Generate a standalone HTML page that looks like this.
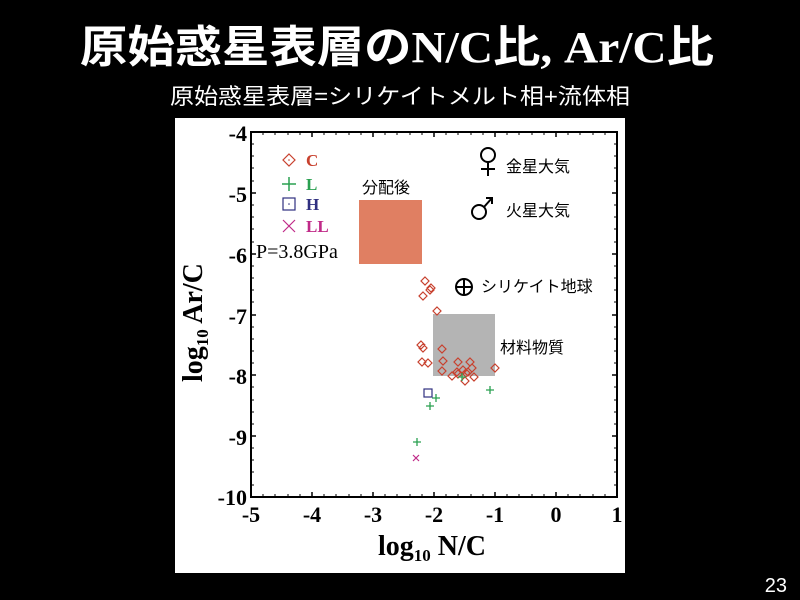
<!DOCTYPE html>
<html><head><meta charset="utf-8"><style>
html,body{margin:0;padding:0;background:#000;width:800px;height:600px;overflow:hidden}
</style></head><body>
<svg width="800" height="600" viewBox="0 0 800 600" xmlns="http://www.w3.org/2000/svg">
<rect width="800" height="600" fill="#000"/>
<text x="80" y="62" fill="#fff" font-size="44" font-weight="bold" font-family="'Liberation Serif','Noto Sans CJK JP',serif" textLength="634" lengthAdjust="spacingAndGlyphs">原始惑星表層のN/C比, Ar/C比</text>
<text x="170" y="104" fill="#fff" font-size="22" font-family="'Liberation Sans','Noto Sans CJK JP',sans-serif" textLength="460" lengthAdjust="spacingAndGlyphs">原始惑星表層=シリケイトメルト相+流体相</text>
<text x="787" y="592" fill="#fff" font-size="20" text-anchor="end" font-family="'Liberation Sans',sans-serif">23</text>
<rect x="175" y="118" width="450" height="455" fill="#fff"/>
<g font-family="'Liberation Serif',serif">
<rect x="359" y="200" width="63" height="64" fill="#e07f62"/>
<rect x="433" y="314" width="62" height="62" fill="#b4b4b4"/>
<rect x="251" y="132" width="366" height="365" fill="none" stroke="#000" stroke-width="2"/>
<g stroke="#000" stroke-width="1.5">
<path d="M312,497v-5M373,497v-5M434,497v-5M495,497v-5M556,497v-5M312,132v5M373,132v5M434,132v5M495,132v5M556,132v5
M251,193h5M251,254h5M251,315h5M251,375h5M251,436h5M617,193h-5M617,254h-5M617,315h-5M617,375h-5M617,436h-5"/>
<path stroke-width="1" d="M263,497v-3M275,497v-3M288,497v-3M300,497v-3M324,497v-3M336,497v-3M349,497v-3M361,497v-3M385,497v-3M397,497v-3M410,497v-3M422,497v-3M446,497v-3M458,497v-3M471,497v-3M483,497v-3M507,497v-3M519,497v-3M532,497v-3M544,497v-3M568,497v-3M580,497v-3M593,497v-3M605,497v-3
M263,132v3M275,132v3M288,132v3M300,132v3M324,132v3M336,132v3M349,132v3M361,132v3M385,132v3M397,132v3M410,132v3M422,132v3M446,132v3M458,132v3M471,132v3M483,132v3M507,132v3M519,132v3M532,132v3M544,132v3M568,132v3M580,132v3M593,132v3M605,132v3
M251,144h3M251,156h3M251,168h3M251,181h3M251,205h3M251,217h3M251,229h3M251,242h3M251,266h3M251,278h3M251,290h3M251,302h3M251,327h3M251,339h3M251,351h3M251,363h3M251,387h3M251,400h3M251,412h3M251,424h3M251,448h3M251,460h3M251,472h3M251,485h3
M617,144h-3M617,156h-3M617,168h-3M617,181h-3M617,205h-3M617,217h-3M617,229h-3M617,242h-3M617,266h-3M617,278h-3M617,290h-3M617,302h-3M617,327h-3M617,339h-3M617,351h-3M617,363h-3M617,387h-3M617,400h-3M617,412h-3M617,424h-3M617,448h-3M617,460h-3M617,472h-3M617,485h-3"/>
</g>
<g font-size="22" font-weight="bold" text-anchor="end" fill="#000">
<text x="247" y="141">-4</text><text x="247" y="202">-5</text><text x="247" y="263">-6</text>
<text x="247" y="324">-7</text><text x="247" y="384">-8</text><text x="247" y="445">-9</text><text x="247" y="505">-10</text>
</g>
<g font-size="22" font-weight="bold" text-anchor="middle" fill="#000">
<text x="251" y="522">-5</text><text x="312" y="522">-4</text><text x="373" y="522">-3</text><text x="434" y="522">-2</text>
<text x="495" y="522">-1</text><text x="556" y="522">0</text><text x="617" y="522">1</text>
</g>
<text x="378" y="555" font-size="28" font-weight="bold">log<tspan font-size="17" dy="6">10</tspan><tspan dy="-6"> N/C</tspan></text>
<text transform="translate(202,382) rotate(-90)" font-size="28" font-weight="bold">log<tspan font-size="17" dy="6">10</tspan><tspan dy="-6"> Ar/C</tspan></text>
<text x="256" y="258" font-size="20">P=3.8GPa</text>
</g>
<g font-family="'Liberation Sans','Noto Sans CJK JP',sans-serif" font-size="16" fill="#000">
<text x="362" y="193">分配後</text>
<text x="506" y="172">金星大気</text>
<text x="506" y="216">火星大気</text>
<text x="481" y="292">シリケイト地球</text>
<text x="500" y="353">材料物質</text>
</g>
<g fill="none" stroke="#000" stroke-width="2">
<circle cx="488" cy="155" r="7"/><path d="M488,162v14M481,169h14"/>
<circle cx="479" cy="212" r="7"/><path d="M484,207l8,-9M486,198h6v6"/>
<circle cx="464" cy="287" r="8"/><path d="M456,287h16M464,279v16"/>
</g>
<g font-family="'Liberation Serif',serif" font-size="17" font-weight="bold">
<path d="M289,154l6,6l-6,6l-6,-6z" fill="none" stroke="#c8412e" stroke-width="1.2"/><circle cx="289" cy="160" r="0.8" fill="#c8412e"/>
<text x="306" y="166" fill="#c8412e">C</text>
<path d="M289,177v14M282,184h14" stroke="#2aa050" stroke-width="1.5"/>
<text x="306" y="190" fill="#2aa050">L</text>
<rect x="283" y="198" width="12" height="12" fill="none" stroke="#303080" stroke-width="1.2"/><circle cx="289" cy="204" r="0.8" fill="#303080"/>
<text x="306" y="210" fill="#303080">H</text>
<path d="M283,220l12,12M295,220l-12,12" stroke="#c02a88" stroke-width="1.2"/>
<text x="306" y="232" fill="#c02a88">LL</text>
</g>
<g fill="none" stroke="#c8412e" stroke-width="1.2">
<path d="M425,277l4,4l-4,4l-4,-4zM431,284l4,4l-4,4l-4,-4zM423,292l4,4l-4,4l-4,-4zM430,286l4,4l-4,4l-4,-4zM437,307l4,4l-4,4l-4,-4zM421,341l4,4l-4,4l-4,-4zM423,344l4,4l-4,4l-4,-4zM422,358l4,4l-4,4l-4,-4zM428,359l4,4l-4,4l-4,-4zM442,345l4,4l-4,4l-4,-4zM443,357l4,4l-4,4l-4,-4zM442,367l4,4l-4,4l-4,-4zM452,372l4,4l-4,4l-4,-4zM458,358l4,4l-4,4l-4,-4zM457,368l4,4l-4,4l-4,-4zM458,370l4,4l-4,4l-4,-4zM463,366l4,4l-4,4l-4,-4zM465,377l4,4l-4,4l-4,-4zM468,368l4,4l-4,4l-4,-4zM470,358l4,4l-4,4l-4,-4zM472,364l4,4l-4,4l-4,-4zM474,373l4,4l-4,4l-4,-4zM495,364l4,4l-4,4l-4,-4zM466,369l4,4l-4,4l-4,-4z"/>
</g>
<path d="M462,373v8M458,377h8M490,386v8M486,390h8M436,394v8M432,398h8M430,402v8M426,406h8M417,438v8M413,442h8" stroke="#2aa050" stroke-width="1.3"/>
<rect x="424" y="389" width="8" height="8" fill="none" stroke="#303080" stroke-width="1.2"/>
<path d="M413,455l6,6M419,455l-6,6" stroke="#c02a88" stroke-width="1.2"/>
</svg>
</body></html>
